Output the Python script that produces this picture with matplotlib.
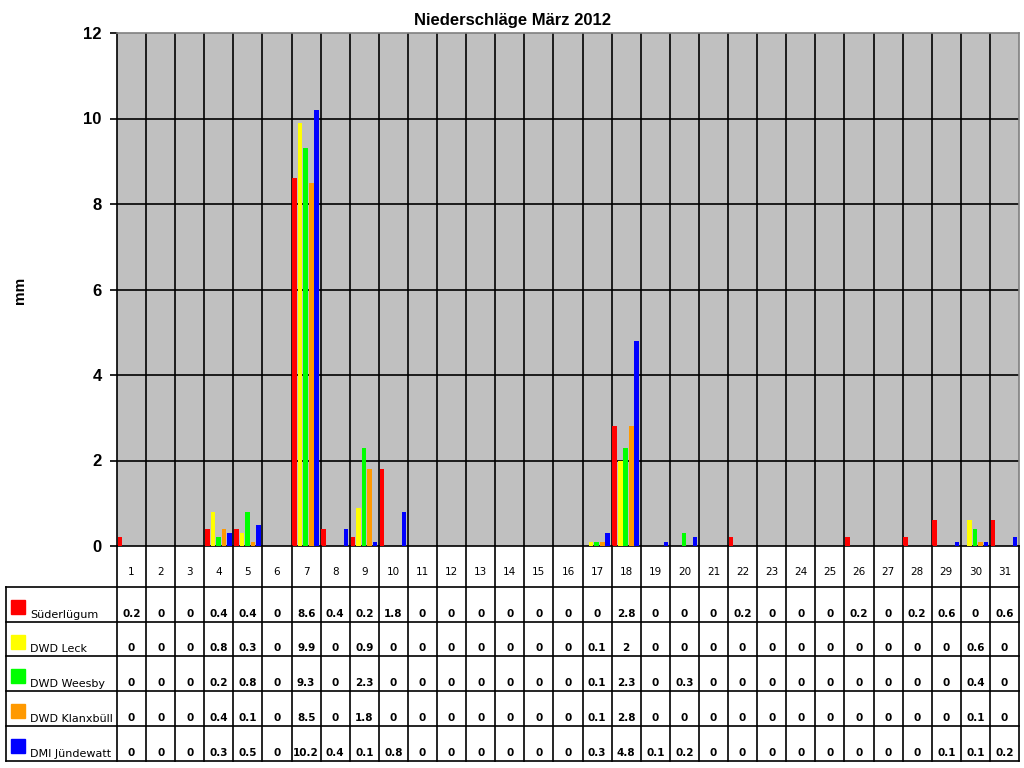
import matplotlib
matplotlib.use("Agg")
import matplotlib.pyplot as plt
import numpy as np

days = list(range(1, 32))
stations = ["Süderlügum", "DWD Leck", "DWD Weesby", "DWD Klanxbüll", "DMI Jündewatt"]
colors = ["#FF0000", "#FFFF00", "#00FF00", "#FF9900", "#0000FF"]

suederluegum = [0.2, 0, 0, 0.4, 0.4, 0, 8.6, 0.4, 0.2, 1.8, 0, 0, 0, 0, 0, 0, 0, 2.8, 0, 0, 0, 0.2, 0, 0, 0, 0.2, 0, 0.2, 0.6, 0, 0.6]
leck = [0, 0, 0, 0.8, 0.3, 0, 9.9, 0, 0.9, 0, 0, 0, 0, 0, 0, 0, 0.1, 2, 0, 0, 0, 0, 0, 0, 0, 0, 0, 0, 0, 0.6, 0]
weesby = [0, 0, 0, 0.2, 0.8, 0, 9.3, 0, 2.3, 0, 0, 0, 0, 0, 0, 0, 0.1, 2.3, 0, 0.3, 0, 0, 0, 0, 0, 0, 0, 0, 0, 0.4, 0]
klanxbuell = [0, 0, 0, 0.4, 0.1, 0, 8.5, 0, 1.8, 0, 0, 0, 0, 0, 0, 0, 0.1, 2.8, 0, 0, 0, 0, 0, 0, 0, 0, 0, 0, 0, 0.1, 0]
juendewatt = [0, 0, 0, 0.3, 0.5, 0, 10.2, 0.4, 0.1, 0.8, 0, 0, 0, 0, 0, 0, 0.3, 4.8, 0.1, 0.2, 0, 0, 0, 0, 0, 0, 0, 0, 0.1, 0.1, 0.2]
series = [suederluegum, leck, weesby, klanxbuell, juendewatt]

W, H = 1024, 768
fig = plt.figure(figsize=(W / 100, H / 100), dpi=100)
plt.rcParams['font.family'] = ['Liberation Sans', 'DejaVu Sans']

L, R, T, B = 117, 1019, 33, 546
ax = fig.add_axes([L / W, 1 - B / H, (R - L) / W, (B - T) / H])
ax.set_facecolor("#C0C0C0")
x = np.array(days, dtype=float)
slot = 0.19
for i, (vals, c) in enumerate(zip(series, colors)):
    v = np.array(vals, dtype=float)
    ax.bar(x - 0.5 + 0.025 + slot * i, np.where(v > 0, v, np.nan), width=slot - 0.03,
           align="edge", color=c, zorder=3)
ax.set_xlim(0.5, 31.5)
ax.set_ylim(0, 12)
ax.set_yticks(range(0, 13, 2))
ax.set_yticklabels([str(v) for v in range(0, 13, 2)], fontsize=12, fontweight="bold")
ax.set_xticks([])
for d in range(1, 31):
    ax.axvline(d + 0.5, color="black", lw=1.2, zorder=2)
for yv in range(2, 12, 2):
    ax.axhline(yv, color="black", lw=1.2, zorder=2)
for s in ["left", "bottom"]:
    ax.spines[s].set_color("black")
    ax.spines[s].set_linewidth(1.2)
for s in ["top", "right"]:
    ax.spines[s].set_color("#808080")
    ax.spines[s].set_linewidth(1.2)
ax.tick_params(axis="y", length=5, width=1.2, pad=6)

fig.text(512 / W, 1 - 20 / H, "Niederschläge März 2012", ha="center", va="center",
         fontsize=12, fontweight="bold")
fig.text(20 / W, 1 - 290 / H, "mm", ha="center", va="center", rotation=90,
         fontsize=11, fontweight="bold")

# table axes in pixel coordinates
TL, TB = 6, 761
tax = fig.add_axes([0, 0, 1, 1])
tax.set_xlim(0, W)
tax.set_ylim(H, 0)
tax.axis("off")
cw = (R - L) / 31
row_edges = [546, 587, 622, 656, 691, 726, 761]
lw = 1.2
for d in range(0, 32):
    xx = L + d * cw
    tax.plot([xx, xx], [546, TB], color="black", lw=lw)
tax.plot([TL, TL], [587, TB], color="black", lw=lw)
for yy in row_edges[1:]:
    tax.plot([TL, R], [yy, yy], color="black", lw=lw)
for d in days:
    tax.text(L + (d - 0.5) * cw, 572, str(d), ha="center", va="center", fontsize=7.5,
             family="DejaVu Sans")
for r, (name, c, vals) in enumerate(zip(stations, colors, series)):
    top = row_edges[r + 1]
    bot = row_edges[r + 2]
    tax.add_patch(plt.Rectangle((11, top + 13), 14, 14, color=c))
    tax.text(30, bot - 7, name, ha="left", va="center", fontsize=8, family="DejaVu Sans")
    for d, v in zip(days, vals):
        tax.text(L + (d - 0.5) * cw, bot - 8, f"{v:g}", ha="center", va="center",
                 fontsize=7.5, fontweight="bold", family="DejaVu Sans")

fig.savefig("out.png", dpi=100)
